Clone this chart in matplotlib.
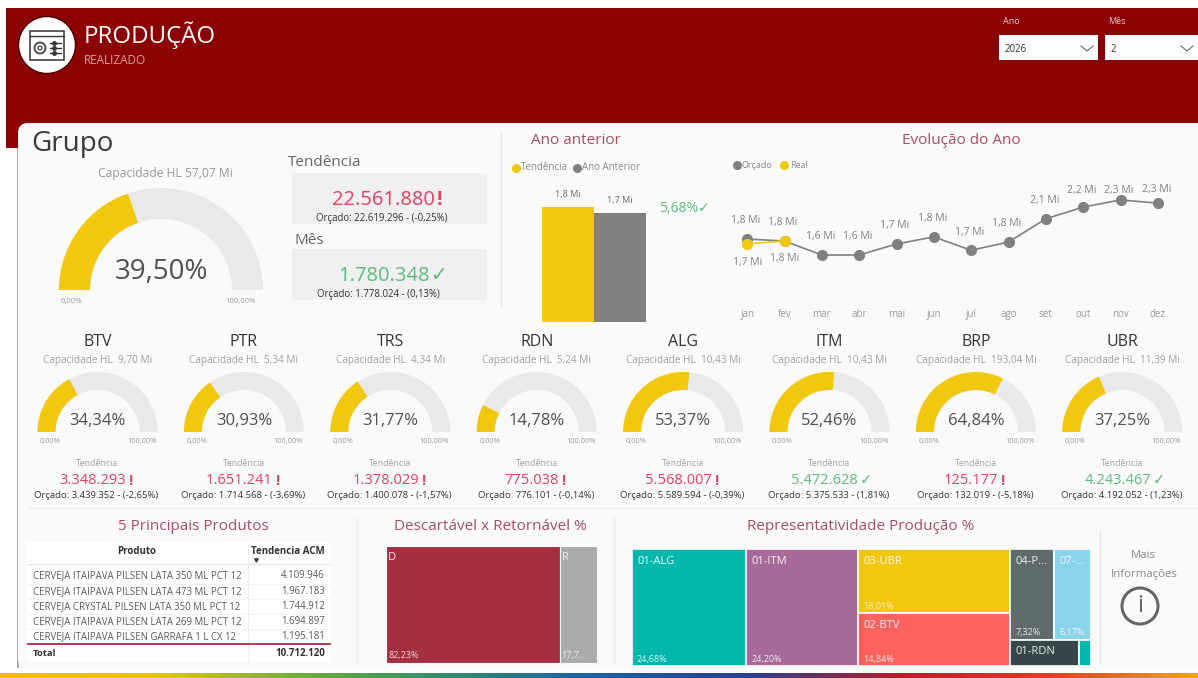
import numpy as np
import matplotlib
matplotlib.use("Agg")
import matplotlib.pyplot as plt
from matplotlib.colors import LinearSegmentedColormap
from matplotlib.patches import Circle, FancyBboxPatch, Rectangle, Wedge

plt.rcParams["font.family"] = ["Open Sans", "DejaVu Sans"]

W, H = 1198, 678

months = ["jan", "fev", "mar", "abr", "mai", "jun", "jul", "ago", "set", "out", "nov", "dez"]
budget = [1.803, 1.778, 1.60, 1.60, 1.74, 1.83, 1.66, 1.765, 2.06, 2.21, 2.30, 2.26]
actual = [1.74, 1.780]

prev_year_labels = ["Tendência", "Ano Anterior"]
prev_year_values = [1780348, 1684659]

group_pct = 39.50
units = ["BTV", "PTR", "TRS", "RDN", "ALG", "ITM", "BRP", "UBR"]
unit_pct = [34.34, 30.93, 31.77, 14.78, 53.37, 52.46, 64.84, 37.25]
unit_capacity = ["9,70", "5,34", "4,34", "5,24", "10,43", "10,43", "193,04", "11,39"]
unit_trend = ["3.348.293", "1.651.241", "1.378.029", "775.038", "5.568.007", "5.472.628", "125.177", "4.243.467"]
unit_budget = ["3.439.352", "1.714.568", "1.400.078", "776.101", "5.589.594", "5.375.533", "132.019", "4.192.052"]
unit_var = [-2.65, -3.69, -1.57, -0.14, -0.39, 1.81, -5.18, 1.23]

products = [
    "CERVEJA ITAIPAVA PILSEN LATA 350 ML PCT 12",
    "CERVEJA ITAIPAVA PILSEN LATA 473 ML PCT 12",
    "CERVEJA CRYSTAL PILSEN LATA 350 ML PCT 12",
    "CERVEJA ITAIPAVA PILSEN LATA 269 ML PCT 12",
    "CERVEJA ITAIPAVA PILSEN GARRAFA 1 L CX 12",
]
product_values = ["4.109.946", "1.967.183", "1.744.912", "1.694.897", "1.195.181"]
product_total = "10.712.120"

pack_names = ["D", "R"]
pack_share = [82.23, 17.77]

share_alg = 24.68
share_itm = 24.20
share_ubr = 18.01
share_btv = 14.84
share_p = 7.32
share_07 = 6.17
share_rdn = 3.30
share_other = 0.60

RED = "#8B0000"
YELLOW = "#F2C80F"
GREY = "#808080"
TITLE = "#A5505F"
BAD = "#E0435F"
GOOD = "#5DBB7C"


def px_axes(fig, x0, y0, x1, y1):
    ax = fig.add_axes([x0 / W, 1 - y1 / H, (x1 - x0) / W, (y1 - y0) / H])
    ax.patch.set_alpha(0)
    return ax


def br(v):
    return f"{v:.2f}".replace(".", ",") + "%"


def gauge(ax, cx, base, r_out, r_in, pct):
    width = r_out - r_in
    ax.add_patch(Wedge((cx, base), r_out, 180, 360, width=width, fc="#E9E9E9", ec="none"))
    ax.add_patch(Wedge((cx, base), r_out, 180, 180 + 180 * pct / 100, width=width, fc=YELLOW, ec="none"))


def value_with_flag(ax, cx, y, txt, ok, size):
    color = GOOD if ok else BAD
    t = ax.text(cx - size * 0.45, y, txt, color=color, fontsize=size, ha="center", va="center")
    mark = "✓" if ok else "!"
    ax.annotate(mark, xy=(1, 0.5), xycoords=t, xytext=(1.5, 0), textcoords="offset points", color=color,
                fontsize=size, fontweight="normal" if ok else "bold", ha="left", va="center")


def draw_cells(ax, x, y, w, h, cell):
    name, value, color, pct_label = cell
    ax.add_patch(Rectangle((x, y), w, h, fc=color, ec="white", lw=1.2))
    ax.text(x + 5, y + 12, name, color="white", fontsize=8, va="center", alpha=0.9)
    if pct_label:
        ax.text(x + 5, y + h - 7, pct_label, color="white", fontsize=6.5, va="center", alpha=0.85)


fig = plt.figure(figsize=(W / 100, H / 100), dpi=100, facecolor="white")
c = fig.add_axes([0, 0, 1, 1])
c.set_xlim(0, W)
c.set_ylim(H, 0)
c.axis("off")

# header and card
c.add_patch(Rectangle((6, 8), W - 6, 140, fc=RED, ec="none"))
c.add_patch(Rectangle((17, 148), 2, 520, fc="#A8A8A8", ec="none"))
c.add_patch(FancyBboxPatch((26, 131), 1200, 530, boxstyle="round,pad=8,rounding_size=10", fc="#FAFAFA", ec="none"))

# logo
c.add_patch(Circle((47, 45), 28.5, fc="white", ec="#4A0000", lw=1))
c.add_patch(Rectangle((30, 31), 34, 29, fc="none", ec="#333333", lw=1.1))
c.plot([30, 64], [36, 36], color="#333333", lw=1)
c.add_patch(Circle((40, 48), 5.5, fc="none", ec="#333333", lw=1.2))
c.add_patch(Circle((40, 48), 2, fc="none", ec="#333333", lw=0.8))
for ly in [43, 48, 53]:
    c.plot([50, 61], [ly, ly], color="#333333", lw=1)
    c.plot([54], [ly], "o", color="#333333", ms=2.5)
c.text(84, 35, "PRODUÇÃO", color="white", fontsize=17.3, va="center")
c.text(84, 60, "REALIZADO", color="#D9A0A0", fontsize=8.5, va="center")

# filters
c.text(1003, 22, "Ano", color="#E8D0D0", fontsize=6.5, va="center")
c.text(1108, 22, "Mês", color="#E8D0D0", fontsize=6.5, va="center")
for x0, x1, txt in [(999, 1098, "2026"), (1105, 1198, "2")]:
    c.add_patch(Rectangle((x0, 35), x1 - x0, 25, fc="white", ec="none"))
    c.text(x0 + 6, 49, txt, color="#333333", fontsize=7, va="center")
    c.plot([x1 - 17, x1 - 11, x1 - 5], [46, 51, 46], color="#666666", lw=0.8)

# group block
c.text(31, 144, "Grupo", color="#3A3A3A", fontsize=20, va="center")
c.text(165, 173, "Capacidade HL 57,07 Mi", color="#999999", fontsize=8.7, ha="center", va="center")
gauge(c, 161, 290, 102, 71, group_pct)
c.text(161, 272, br(group_pct), color="#505050", fontsize=20, ha="center", va="center")
c.text(71, 301, "0,00%", color="#999999", fontsize=5.5, ha="center", va="center")
c.text(240, 301, "100,00%", color="#999999", fontsize=5.5, ha="center", va="center")
c.text(288, 162, "Tendência", color="#666666", fontsize=11, va="center")
c.text(295, 241, "Mês", color="#666666", fontsize=11, va="center")
for y0 in [173, 249]:
    c.add_patch(Rectangle((292, y0), 195, 51, fc="#F0F0F0", ec="none"))
value_with_flag(c, 390, 200, "22.561.880", False, 14.5)
c.text(382, 218, "Orçado: 22.619.296 - (-0,25%)", color="#333333", fontsize=6.9, ha="center", va="center")
value_with_flag(c, 390, 276, "1.780.348", True, 14.5)
c.text(378, 294, "Orçado: 1.778.024 - (0,13%)", color="#333333", fontsize=6.9, ha="center", va="center")
c.plot([501, 501], [133, 305], color="#E2E2E2", lw=1)

# previous year
c.text(576, 141, "Ano anterior", color=TITLE, fontsize=11, ha="center", va="center")
c.plot([516], [168], "o", color=YELLOW, ms=5.5)
c.text(521, 168, prev_year_labels[0], color="#888888", fontsize=7, va="center")
c.plot([577], [168], "o", color=GREY, ms=5.5)
c.text(582, 168, prev_year_labels[1], color="#888888", fontsize=7, va="center")
bar_ax = px_axes(fig, 542, 207, 646, 322)
bars = bar_ax.bar([0, 1], prev_year_values, width=1, color=[YELLOW, GREY])
bar_ax.set_xlim(-0.5, 1.5)
bar_ax.set_ylim(0, max(prev_year_values))
bar_ax.axis("off")
for b, v in zip(bars, prev_year_values):
    bar_ax.annotate(f"{v / 1e6:.1f} Mi".replace(".", ","), (b.get_x() + 0.5, v), xytext=(0, 9), textcoords="offset points",
                    ha="center", va="center", fontsize=6.5, color="#666666", annotation_clip=False)
c.text(684, 208, "5,68%✓", color=GOOD, fontsize=10, ha="center", va="center")

# year evolution
c.text(961, 141, "Evolução do Ano", color=TITLE, fontsize=11, ha="center", va="center")
c.plot([737], [165], "o", color=GREY, ms=5.5)
c.text(742, 165, "Orçado", color="#888888", fontsize=6.5, va="center")
c.plot([784], [165], "o", color=YELLOW, ms=5.5)
c.text(790, 165, "Real", color="#888888", fontsize=6.5, va="center")
line_ax = px_axes(fig, 728.5, 180, 1176.5, 305)
xs = np.arange(len(months))
line_ax.plot(xs, budget, "-o", color=GREY, lw=1.2, ms=7, zorder=2)
line_ax.plot(xs[:len(actual)], actual, "-o", color=YELLOW, lw=1.2, ms=7, zorder=3)
line_ax.set_xlim(-0.5, 11.5)
line_ax.set_ylim(0.964, 2.554)
line_ax.set_yticks([])
line_ax.set_xticks(xs, months, fontsize=7, color="#999999")
line_ax.tick_params(axis="x", length=0, pad=3)
for s in line_ax.spines.values():
    s.set_visible(False)
budget_dy = [13, 13, 13, 13, 13, 13, 13, 13, 13, 12, 7, 10]
for x, v, dy in zip(xs, budget, budget_dy):
    line_ax.annotate(f"{v:.1f} Mi".replace(".", ","), (x, v), xytext=(-1, dy), textcoords="offset points",
                     ha="center", va="center", fontsize=7.5, color="#808080")
for x, v in zip(xs, actual):
    line_ax.annotate(f"{v:.1f} Mi".replace(".", ","), (x, v), xytext=(0, -13), textcoords="offset points",
                     ha="center", va="center", fontsize=7.5, color="#808080")

# units row
for i, name in enumerate(units):
    cx = 97.5 + i * 146.4
    c.text(cx, 342, name, color="#333333", fontsize=11.5, ha="center", va="center")
    c.text(cx, 360, f"Capacidade HL  {unit_capacity[i]} Mi", color="#A0A0A0", fontsize=7.2, ha="center", va="center")
    gauge(c, cx, 432, 60, 42, unit_pct[i])
    c.text(cx, 421, br(unit_pct[i]), color="#505050", fontsize=12, ha="center", va="center")
    c.text(cx - 47, 442, "0,00%", color="#999999", fontsize=5.3, ha="center", va="center")
    c.text(cx + 44, 442, "100,00%", color="#999999", fontsize=5.3, ha="center", va="center")
    c.text(cx, 464, "Tendência", color="#A0A0A0", fontsize=6.3, ha="center", va="center")
    value_with_flag(c, cx, 481, unit_trend[i], unit_var[i] > 0, 10.5)
    var_txt = f"{unit_var[i]:.2f}".replace(".", ",")
    c.text(cx - 1, 495, f"Orçado: {unit_budget[i]} - ({var_txt}%)", color="#333333", fontsize=6.8, ha="center", va="center")
c.plot([27, W], [508, 508], color="#EFEFEF", lw=1)

# products table
c.text(193, 526, "5 Principais Produtos", color=TITLE, fontsize=11, ha="center", va="center")
c.add_patch(Rectangle((27, 542), 303, 120, fc="white", ec="none"))
c.text(137, 551, "Produto", color="#333333", fontsize=7, fontweight="bold", ha="center", va="center")
c.text(325, 551, "Tendencia ACM", color="#333333", fontsize=7, fontweight="bold", ha="right", va="center")
c.plot([256], [560], marker="v", color="#444444", ms=2.5)
c.plot([28, 330], [564, 564], color="#E4E4E4", lw=0.8)
c.plot([248, 248], [543, 662], color="#EEEEEE", lw=0.8)
for i, (p, v) in enumerate(zip(products, product_values)):
    ry = 576 + 15.2 * i
    c.text(33, ry, p, color="#5A5A5A", fontsize=6.9, va="center")
    c.text(325, ry, v, color="#5A5A5A", fontsize=6.9, ha="right", va="center")
    if i < 4:
        c.plot([28, 330], [ry + 7.5, ry + 7.5], color="#F0F0F0", lw=0.6)
c.plot([28, 330], [644, 644], color="#B02A3A", lw=1.3)
c.text(33, 653, "Total", color="#333333", fontsize=6.8, fontweight="bold", va="center")
c.text(325, 653, product_total, color="#333333", fontsize=7, fontweight="bold", ha="right", va="center")
c.plot([357, 357], [518, 662], color="#EDEDED", lw=1)
c.plot([614, 614], [518, 662], color="#EDEDED", lw=1)
c.plot([1100, 1100], [530, 662], color="#E6E6E6", lw=1)

# pack treemap
c.text(490, 526, "Descartável x Retornável %", color=TITLE, fontsize=11, ha="center", va="center")
pack_ax = px_axes(fig, 386, 546, 597, 663)
pack_total = sum(pack_share)
pack_ax.set_xlim(0, pack_total)
pack_ax.set_ylim(1, 0)
pack_ax.axis("off")
pack_ax.barh(0.5, pack_share[0], height=1, left=0, color="#A4303F", edgecolor="white", lw=0.8)
pack_ax.barh(0.5, pack_share[1], height=1, left=pack_share[0], color="#ABABAB", edgecolor="white", lw=0.8)
pack_ax.text(1, 0.1, pack_names[0], color="white", fontsize=8, va="center", alpha=0.9)
pack_ax.text(pack_share[0] + 1, 0.1, pack_names[1], color="white", fontsize=8, va="center", alpha=0.8)
pack_ax.text(1, 0.94, br(pack_share[0]), color="white", fontsize=6.5, va="center", alpha=0.8)
pack_ax.text(pack_share[0] + 1, 0.94, "17,7..", color="white", fontsize=6.5, va="center", alpha=0.8)

# share treemap, slice layout worked out from the shares
c.text(861, 526, "Representatividade Produção %", color=TITLE, fontsize=11, ha="center", va="center")
tree = px_axes(fig, 632, 549, 1091, 666)
tree.set_xlim(632, 1091)
tree.set_ylim(666, 549)
tree.axis("off")
cols = [
    [[("01-ALG", share_alg, "#01B8AA", "24,68%")]],
    [[("01-ITM", share_itm, "#A66999", "24,20%")]],
    [[("03-UBR", share_ubr, YELLOW, "18,01%")], [("02-BTV", share_btv, "#FD625E", "14,84%")]],
    [[("04-P...", share_p, "#5F6B6D", "7,32%"), ("07-...", share_07, "#8AD4EB", "6,17%")],
     [("01-RDN", share_rdn, "#374649", ""), ("", share_other, "#01B8AA", "")]],
]
total = sum(cell[1] for col in cols for row in col for cell in row)
x = 632.0
for col in cols:
    col_sum = sum(cell[1] for row in col for cell in row)
    col_w = 459 * col_sum / total
    y = 549.0
    for row in col:
        row_sum = sum(cell[1] for cell in row)
        row_h = 117 * row_sum / col_sum
        cx = x
        for cell in row:
            cw = col_w * cell[1] / row_sum
            draw_cells(tree, cx, y, cw, row_h, cell)
            cx += cw
        y += row_h
    x += col_w

# more info
c.text(1143, 556, "Mais", color="#888888", fontsize=8.2, ha="center", va="center")
c.text(1144, 575, "Informações", color="#888888", fontsize=8.2, ha="center", va="center")
c.add_patch(Circle((1140, 606), 18, fc="none", ec="#666666", lw=2.2))
c.text(1140, 606, "i", color="#666666", fontsize=17, ha="center", va="center")

# rainbow strip
strip = px_axes(fig, 0, 673, W, H)
cmap = LinearSegmentedColormap.from_list(
    "strip", ["#F2B90F", "#E8C417", "#6FAE3A", "#2E8B6F", "#1F5FA8", "#26408F", "#B3202E", "#D8402A", "#F0A020"]
)
strip.imshow(np.linspace(0, 1, 600)[None, :], aspect="auto", cmap=cmap)
strip.axis("off")

fig.savefig("out.png", dpi=100)
